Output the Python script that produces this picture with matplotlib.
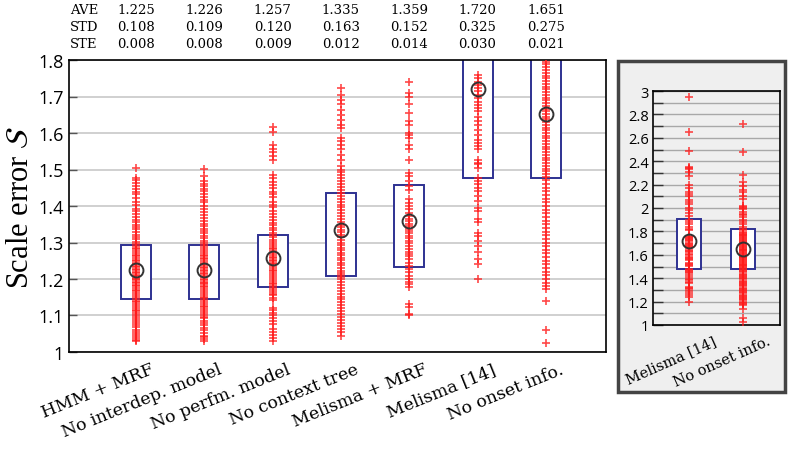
import numpy as np
import matplotlib
matplotlib.use("Agg")
import matplotlib.pyplot as plt
from matplotlib.patches import Rectangle
from matplotlib.transforms import blended_transform_factory, ScaledTranslation

# methods (x categories)
methods = ['HMM + MRF', 'No interdep. model', 'No perfm. model', 'No context tree',
           'Melisma + MRF', 'Melisma [14]', 'No onset info.']

# summary statistics printed above the plot
ave = [1.225, 1.226, 1.257, 1.335, 1.359, 1.720, 1.651]
std = [0.108, 0.109, 0.120, 0.163, 0.152, 0.325, 0.275]
ste = [0.008, 0.008, 0.009, 0.012, 0.014, 0.030, 0.021]

# box limits
q1 = [1.144, 1.144, 1.178, 1.209, 1.232, 1.478, 1.476]
q3 = [1.294, 1.294, 1.321, 1.436, 1.457, 1.905, 1.822]

# individual scale errors (estimated from the figure)
hmm_mrf = [1.503, 1.478, 1.471, 1.463, 1.455, 1.447, 1.438, 1.432, 1.421, 1.412, 1.404, 1.393,
           1.386, 1.379, 1.371, 1.362, 1.356, 1.349, 1.343, 1.337, 1.329, 1.321, 1.316, 1.309,
           1.302, 1.297, 1.291, 1.286, 1.281, 1.276, 1.271, 1.266, 1.262, 1.257, 1.253, 1.249,
           1.244, 1.240, 1.236, 1.232, 1.228, 1.224, 1.220, 1.216, 1.212, 1.208, 1.204, 1.200,
           1.196, 1.192, 1.188, 1.184, 1.180, 1.176, 1.171, 1.166, 1.161, 1.156, 1.151, 1.146,
           1.141, 1.136, 1.131, 1.126, 1.121, 1.116, 1.111, 1.106, 1.101, 1.096, 1.091, 1.085,
           1.079, 1.073, 1.068, 1.061, 1.055, 1.049, 1.043, 1.039, 1.034, 1.030]
no_interdep = [1.502, 1.482, 1.468, 1.461, 1.454, 1.446, 1.440, 1.432, 1.425, 1.417, 1.410,
               1.401, 1.393, 1.384, 1.376, 1.368, 1.360, 1.352, 1.345, 1.338, 1.331, 1.325,
               1.318, 1.311, 1.305, 1.299, 1.293, 1.288, 1.283, 1.277, 1.272, 1.267, 1.263,
               1.258, 1.254, 1.249, 1.245, 1.241, 1.237, 1.233, 1.229, 1.225, 1.221, 1.217,
               1.213, 1.209, 1.205, 1.201, 1.197, 1.193, 1.189, 1.185, 1.181, 1.177, 1.172,
               1.167, 1.162, 1.157, 1.152, 1.147, 1.142, 1.137, 1.132, 1.127, 1.122, 1.117,
               1.112, 1.107, 1.102, 1.097, 1.092, 1.086, 1.080, 1.074, 1.066, 1.060, 1.052,
               1.045, 1.040, 1.035, 1.030]
no_perfm = [1.617, 1.603, 1.566, 1.556, 1.547, 1.538, 1.527, 1.484, 1.476, 1.466, 1.458, 1.450,
            1.438, 1.432, 1.424, 1.412, 1.404, 1.396, 1.387, 1.378, 1.370, 1.362, 1.354, 1.347,
            1.340, 1.333, 1.326, 1.320, 1.314, 1.308, 1.302, 1.296, 1.291, 1.286, 1.281, 1.276,
            1.271, 1.266, 1.261, 1.257, 1.253, 1.249, 1.245, 1.241, 1.236, 1.231, 1.226, 1.221,
            1.216, 1.211, 1.206, 1.200, 1.195, 1.190, 1.185, 1.180, 1.175, 1.170, 1.165, 1.160,
            1.155, 1.148, 1.142, 1.120, 1.114, 1.108, 1.100, 1.092, 1.085, 1.078, 1.063, 1.055,
            1.047, 1.038, 1.029]
no_context = [1.723, 1.705, 1.690, 1.680, 1.664, 1.650, 1.636, 1.623, 1.614, 1.586, 1.577,
              1.568, 1.555, 1.541, 1.527, 1.509, 1.500, 1.492, 1.484, 1.476, 1.468, 1.460,
              1.452, 1.444, 1.436, 1.428, 1.420, 1.412, 1.404, 1.396, 1.388, 1.380, 1.372,
              1.364, 1.356, 1.349, 1.342, 1.335, 1.328, 1.321, 1.314, 1.307, 1.300, 1.293,
              1.286, 1.279, 1.272, 1.265, 1.258, 1.251, 1.244, 1.237, 1.230, 1.223, 1.216,
              1.210, 1.205, 1.200, 1.192, 1.184, 1.176, 1.168, 1.160, 1.152, 1.144, 1.136,
              1.128, 1.120, 1.112, 1.104, 1.096, 1.088, 1.080, 1.072, 1.064, 1.055, 1.045]
melisma_mrf = [1.741, 1.709, 1.700, 1.680, 1.655, 1.632, 1.623, 1.600, 1.595, 1.586, 1.568,
               1.555, 1.527, 1.491, 1.482, 1.468, 1.455, 1.445, 1.418, 1.409, 1.400, 1.391,
               1.382, 1.373, 1.365, 1.359, 1.352, 1.345, 1.338, 1.332, 1.325, 1.318, 1.311,
               1.305, 1.298, 1.291, 1.282, 1.275, 1.268, 1.262, 1.255, 1.245, 1.236, 1.227,
               1.218, 1.209, 1.200, 1.191, 1.186, 1.177, 1.132, 1.123, 1.105, 1.100]
melisma = [2.95, 2.65, 2.49, 2.35, 2.34, 2.33, 2.31, 2.27, 2.20, 2.17, 2.14, 2.12, 2.10, 2.07,
           2.05, 2.03, 2.00, 1.98, 1.96, 1.93, 1.90, 1.88, 1.86, 1.84, 1.82, 1.81, 1.759, 1.750,
           1.741, 1.732, 1.723, 1.714, 1.705, 1.695, 1.686, 1.677, 1.668, 1.659, 1.645, 1.632,
           1.623, 1.609, 1.595, 1.582, 1.573, 1.564, 1.555, 1.527, 1.518, 1.514, 1.505, 1.477,
           1.468, 1.459, 1.450, 1.441, 1.427, 1.414, 1.395, 1.386, 1.364, 1.355, 1.327, 1.318,
           1.305, 1.291, 1.273, 1.255, 1.241, 1.200]
no_onset = [2.72, 2.48, 2.28, 2.22, 2.19, 2.15, 2.14, 2.10, 2.08, 2.02, 2.01, 2.00, 1.99, 1.97,
            1.95, 1.94, 1.92, 1.90, 1.88, 1.86, 1.84, 1.82, 1.81, 1.795, 1.788, 1.780, 1.773,
            1.765, 1.757, 1.750, 1.742, 1.735, 1.727, 1.720, 1.712, 1.705, 1.697, 1.690, 1.682,
            1.675, 1.667, 1.660, 1.652, 1.645, 1.637, 1.630, 1.622, 1.615, 1.607, 1.600, 1.592,
            1.585, 1.577, 1.570, 1.562, 1.555, 1.547, 1.540, 1.532, 1.525, 1.517, 1.510, 1.502,
            1.495, 1.487, 1.480, 1.470, 1.460, 1.450, 1.440, 1.430, 1.420, 1.410, 1.400, 1.390,
            1.380, 1.370, 1.360, 1.350, 1.340, 1.330, 1.320, 1.310, 1.300, 1.290, 1.280, 1.270,
            1.260, 1.250, 1.240, 1.230, 1.220, 1.210, 1.200, 1.190, 1.180, 1.173, 1.139, 1.059,
            1.025]
scores = [hmm_mrf, no_interdep, no_perfm, no_context, melisma_mrf, melisma, no_onset]

main_ticks = [1.0, 1.1, 1.2, 1.3, 1.4, 1.5, 1.6, 1.7, 1.8]
main_ticklabels = ['1', '1.1', '1.2', '1.3', '1.4', '1.5', '1.6', '1.7', '1.8']
inset_ticks = [1.0, 1.2, 1.4, 1.6, 1.8, 2.0, 2.2, 2.4, 2.6, 2.8, 3.0]
inset_ticklabels = ['1', '1.2', '1.4', '1.6', '1.8', '2', '2.2', '2.4', '2.6', '2.8', '3']
inset_idx = [5, 6]

box_col = '#2e3192'
pt_col = '#ff1a1a'
W, H = 789, 452


def draw_boxes(ax, xs, idxs):
    for x, i in zip(xs, idxs):
        ax.add_patch(Rectangle((x - 0.22, q1[i]), 0.44, q3[i] - q1[i], facecolor='white',
                               edgecolor=box_col, lw=1.4, zorder=2))
        ax.plot([x] * len(scores[i]), scores[i], '+', color=pt_col, ms=5.5, mew=1.2,
                alpha=0.8, zorder=3)
        ax.plot(x, ave[i], 'o', mfc='none', mec='#333333', ms=10, mew=1.4, zorder=4)


fig = plt.figure(figsize=(W / 100, H / 100), dpi=100)

# grey frame behind the inset panel
fig.patches.append(Rectangle((618 / W, 1 - 393 / H), 167 / W, 331 / H, transform=fig.transFigure,
                             facecolor='#efefef', edgecolor='#444444', lw=2.5, zorder=-1))

# main panel
ax = fig.add_axes([69 / W, 1 - 353 / H, 537 / W, 292 / H])
pos = np.arange(1, len(methods) + 1)
draw_boxes(ax, pos, range(len(methods)))
ax.set_xlim(0.02, 7.88)
ax.set_ylim(1.0, 1.8)
ax.set_yticks(main_ticks, main_ticklabels, fontsize=13, family='Open Sans')
ax.yaxis.grid(True, color='#c8c8c8', lw=1.2)
ax.set_axisbelow(True)
ax.tick_params(axis='y', direction='in', length=6, width=1, color='#555555', pad=4)
ax.tick_params(axis='x', length=0, pad=6)
ax.set_xticks(pos, methods, rotation=22, ha='right', rotation_mode='anchor',
              fontsize=12.5, family='DejaVu Serif')
for lbl in ax.get_xticklabels():
    lbl.set_transform(lbl.get_transform() + ScaledTranslation(0.14, 0, fig.dpi_scale_trans))
for s in ax.spines.values():
    s.set_linewidth(1.2)
ax.set_ylabel(r'Scale error $\mathcal{S}$', fontsize=22, family='Liberation Serif', labelpad=2)

# statistics table above the panel
tr = blended_transform_factory(ax.transData, fig.transFigure)
rows = [('AVE', ave), ('STD', std), ('STE', ste)]
for r, (name, vals) in enumerate(rows):
    yy = 1 - (11 + 16.5 * r) / H
    fig.text(70 / W, yy, name, ha='left', va='center', fontsize=9.5, family='DejaVu Serif')
    for x, v in zip(pos, vals):
        ax.text(x, yy, f'{v:.3f}', transform=tr, ha='center', va='center', fontsize=9.5,
                family='DejaVu Serif', clip_on=False)

# inset with the full range of the two Melisma-based methods
ax2 = fig.add_axes([653 / W, 1 - 326 / H, 127 / W, 234 / H], facecolor='#efefef')
ax2.set_zorder(2)
draw_boxes(ax2, [1, 2], inset_idx)
ax2.set_xlim(0.33, 2.69)
ax2.set_ylim(1.0, 3.0)
ax2.set_yticks(inset_ticks, inset_ticklabels, fontsize=10.5, family='Open Sans')
ax2.set_yticks(np.arange(1.1, 3.0, 0.2), minor=True)
ax2.yaxis.grid(True, which='both', color='#a8a8a8', lw=1.0)
ax2.set_axisbelow(True)
ax2.tick_params(axis='y', which='both', direction='in', length=7, width=1, color='#333333')
ax2.tick_params(axis='y', pad=3)
ax2.tick_params(axis='x', length=0, pad=6)
ax2.set_xticks([1, 2], [methods[i] for i in inset_idx], rotation=24, ha='right',
               rotation_mode='anchor', fontsize=10.5, family='DejaVu Serif')
for lbl in ax2.get_xticklabels():
    lbl.set_transform(lbl.get_transform() + ScaledTranslation(0.24, 0, fig.dpi_scale_trans))
for s in ax2.spines.values():
    s.set_linewidth(1.2)

fig.savefig('out.png', dpi=100)
